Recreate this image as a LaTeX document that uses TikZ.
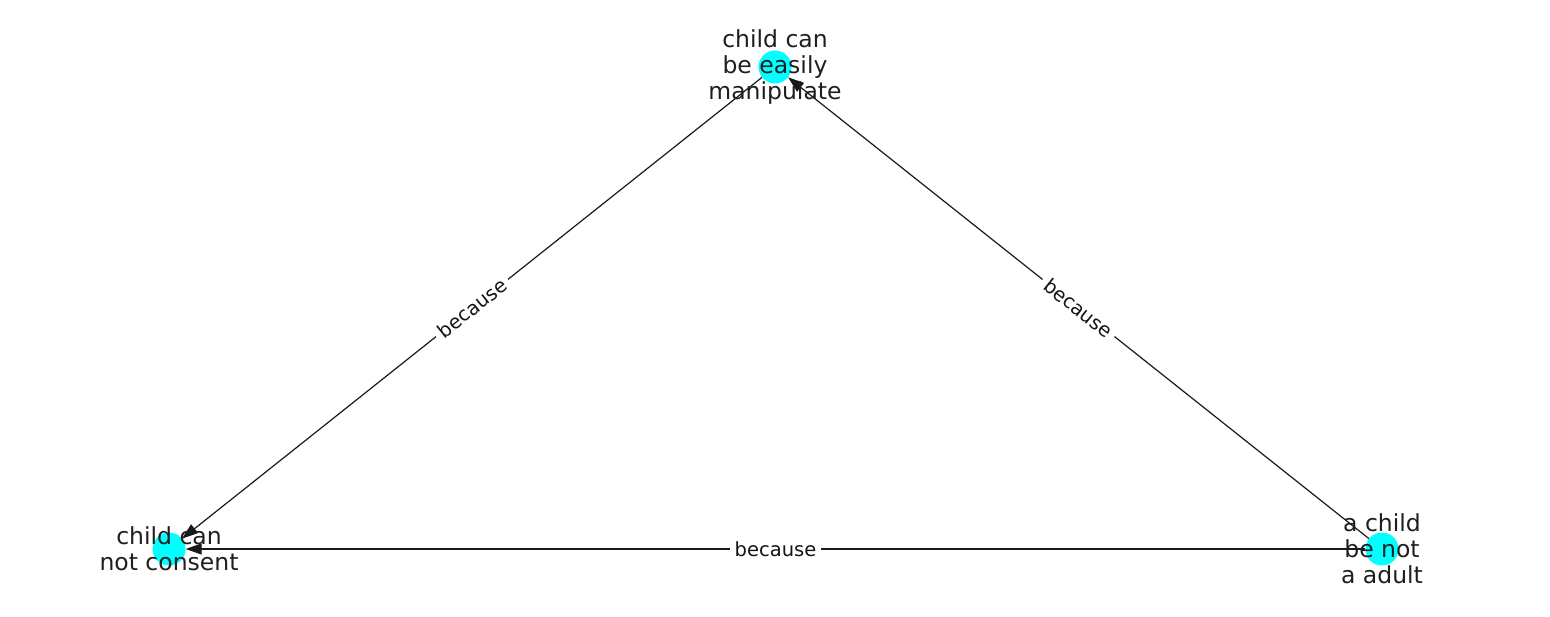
\documentclass[tikz,border=0pt]{standalone}
\usepackage{fontspec}
\setmainfont{DejaVu Sans}
\usetikzlibrary{arrows.meta}
\definecolor{color00ffff}{HTML}{00FFFF}

\begin{document}
\begin{tikzpicture}
    [x=1pt, y=1pt,
     >={Triangle[length=16pt, width=11pt]},  % Uniform arrow style
     dot/.style={circle, fill=color00ffff, minimum size=33pt, inner sep=0pt},
     claim/.style={align=center, text=black!88, font=\fontsize{23.5}{26}\selectfont},
     rel/.style={fill=white, inner sep=5pt, sloped, text=black!92, font=\fontsize{19.5}{22}\selectfont},
    ]
\useasboundingbox (0,0) rectangle (1550,616);

\node[dot] (node_manip) at (775,549) {};
\node[dot] (node_consent) at (169,67) {};
\node[dot] (node_adult) at (1382,67) {};

\draw[->, line width=1.2pt, black!90] (node_manip) -- node[rel] {because} (node_consent);
\draw[->, line width=1.2pt, black!90] (node_adult) -- node[rel] {because} (node_manip);
\draw[->, line width=1.2pt, black!90] (node_adult) -- node[rel] {because} (node_consent);

\node[claim] (text_manip) at (node_manip) {child can\\be easily\\manipulate};
\node[claim] (text_consent) at (node_consent) {child can\\not consent};
\node[claim] (text_adult) at (node_adult) {a child\\be not\\a adult};

\end{tikzpicture}
\end{document}
